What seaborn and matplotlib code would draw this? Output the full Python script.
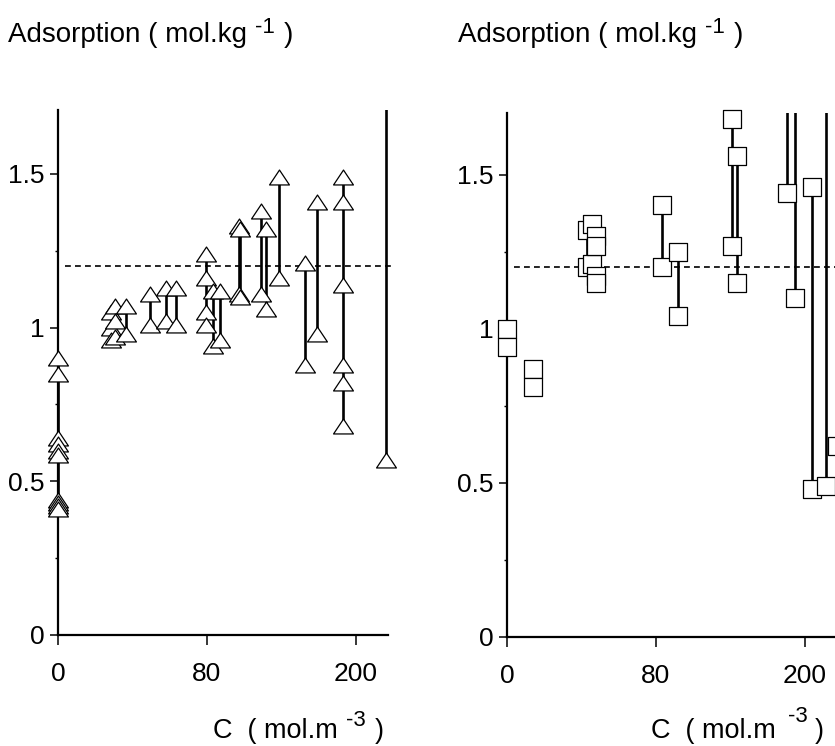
import numpy as np
import pandas as pd
import matplotlib
matplotlib.use("Agg")
import matplotlib.pyplot as plt
from matplotlib.path import Path
import seaborn as sns

# ---- data (C in mol.m-3, adsorption in mol.kg-1) ----
# left panel (triangles): replicate points sharing a C are joined by a line
tri_c = [0, 0, 0, 0, 0, 0, 0, 0, 0, 0,
         28.5, 28.5, 28.5, 30.5, 30.5, 30.5, 36.5, 36.5,
         49.5, 49.5, 58, 58, 63.5, 63.5,
         79.5, 79.5, 79.5, 79.5, 85, 85, 90.5, 90.5,
         106, 106, 107, 107, 124, 124, 128, 128, 138, 138,
         159, 159, 169, 169,
         190, 190, 190, 190, 190, 190, 224]
tri_q = [0.90, 0.85, 0.64, 0.62, 0.60, 0.585, 0.44, 0.43, 0.42, 0.41,
         1.05, 1.00, 0.96, 1.07, 1.02, 0.97, 1.07, 0.98,
         1.11, 1.01, 1.13, 1.02, 1.13, 1.01,
         1.24, 1.16, 1.05, 1.01, 1.12, 0.94, 1.12, 0.96,
         1.33, 1.11, 1.32, 1.10, 1.38, 1.11, 1.32, 1.06, 1.49, 1.16,
         1.21, 0.88, 1.41, 0.98,
         1.49, 1.41, 1.14, 0.88, 0.82, 0.68, 0.57]
tri_offscale_c = [224]          # lines that run off the top of the plot

# right panel (squares)
sq_c = [0, 0, 14, 14, 43, 43, 45.5, 45.5, 48, 48, 48, 48,
        85, 85, 98, 98, 141.5, 141.5, 145.5, 145.5,
        186, 192, 206, 206, 217, 226]
sq_q = [1.00, 0.94, 0.87, 0.81, 1.32, 1.20, 1.34, 1.21, 1.30, 1.27, 1.17, 1.15,
        1.40, 1.20, 1.25, 1.04, 1.68, 1.27, 1.56, 1.15,
        1.44, 1.10, 1.46, 0.48, 0.49, 0.62]
sq_offscale_c = [186, 192, 217, 226]

ref_level = 1.2
x_ticks = [0, 80, 200]
y_major = [0, 0.5, 1, 1.5]
y_minor = [0.25, 0.75, 1.25]

sns.set_style("ticks")
plt.rcParams["font.family"] = ["Liberation Sans", "DejaVu Sans"]
plt.rcParams.update({"text.color": "black", "xtick.color": "black",
                     "ytick.color": "black", "axes.labelcolor": "black"})

W, H = 835, 746
fig = plt.figure(figsize=(W / 100, H / 100), dpi=100)


# the C axis is stretched: 0-80 and 80-200 take the same length
def fwd(c):
    c = np.asarray(c, dtype=float)
    return np.where(c <= 80, c / 80, 1 + (c - 80) / 120)


def inv(u):
    u = np.asarray(u, dtype=float)
    return np.where(u <= 1, u * 80, 80 + (u - 1) * 120)


# wide, flat triangle like the original
tri_marker = Path([(-1, -0.75), (1, -0.75), (0, 0.75), (-1, -0.75)],
                  [Path.MOVETO, Path.LINETO, Path.LINETO, Path.CLOSEPOLY])


def panel(rect, c, q, offscale, marker, size, ytop):
    ax = fig.add_axes(rect)
    pts = pd.DataFrame({"C": c, "q": q})
    extra = pd.DataFrame({"C": offscale, "q": [2.2] * len(offscale)})
    lines = pd.concat([pts, extra], ignore_index=True)
    lines["grp"] = lines["C"]
    sns.lineplot(data=lines, x="C", y="q", units="grp", estimator=None,
                 color="black", lw=1.9, legend=False, ax=ax)
    sns.scatterplot(data=pts, x="C", y="q", marker=marker, s=size,
                    color="white", edgecolor="black", linewidth=0.9,
                    clip_on=False, zorder=4, legend=False, ax=ax)
    ax.plot([4, 232], [ref_level, ref_level], color="black", lw=1.2,
            ls=(0, (3.5, 2.5)), clip_on=False, zorder=2)
    ax.set_xscale("function", functions=(fwd, inv))
    ax.set_xlim(0, 226)
    ax.set_ylim(0, ytop)
    ax.set_xticks(x_ticks)
    ax.set_xticklabels([str(t) for t in x_ticks])
    ax.set_xticks([], minor=True)
    ax.set_yticks(y_major)
    ax.set_yticklabels(["0", "0.5", "1", "1.5"])
    ax.set_yticks(y_minor, minor=True)
    ax.tick_params(axis="x", length=7.5, width=1.1, pad=12, labelsize=19)
    ax.tick_params(axis="y", which="major", length=5.5, width=1.1, pad=4,
                   labelsize=19)
    ax.tick_params(axis="y", which="minor", length=2.2, width=1.0)
    ax.set_xlabel("")
    ax.set_ylabel("")
    sns.despine(ax=ax)
    for s in ("left", "bottom"):
        ax.spines[s].set_linewidth(1.6)
        ax.spines[s].set_color("black")
    return ax


panel([58 / W, 111 / H, 330 / W, 525 / H], tri_c, tri_q, tri_offscale_c,
      tri_marker, 205, 1.708)
panel([507 / W, 109 / H, 330 / W, 524 / H], sq_c, sq_q, sq_offscale_c,
      "s", 150, 1.70)

renderer = fig.canvas.get_renderer()


def unit_label(x_px, base_px, main, sup, gap1, rise, gap2, fs=20, sfs=16):
    t = fig.text(x_px / W, 1 - base_px / H, main, fontsize=fs, va="baseline")
    bb = t.get_window_extent(renderer)
    s = fig.text((bb.x1 + gap1) / W, 1 - (base_px - rise) / H, sup,
                 fontsize=sfs, va="baseline")
    bb2 = s.get_window_extent(renderer)
    fig.text((bb2.x1 + gap2) / W, 1 - base_px / H, ")", fontsize=fs,
             va="baseline")


unit_label(8, 42, "Adsorption ( mol.kg", "-1", 8, 9, 9)
unit_label(458, 42, "Adsorption ( mol.kg", "-1", 8, 9, 9)
unit_label(213, 738, "C  ( mol.m", "-3", 8, 12, 9, fs=19.5)
unit_label(651, 738, "C  ( mol.m", "-3", 12, 16, 7, fs=19.5)

fig.savefig("out.png", dpi=100)
